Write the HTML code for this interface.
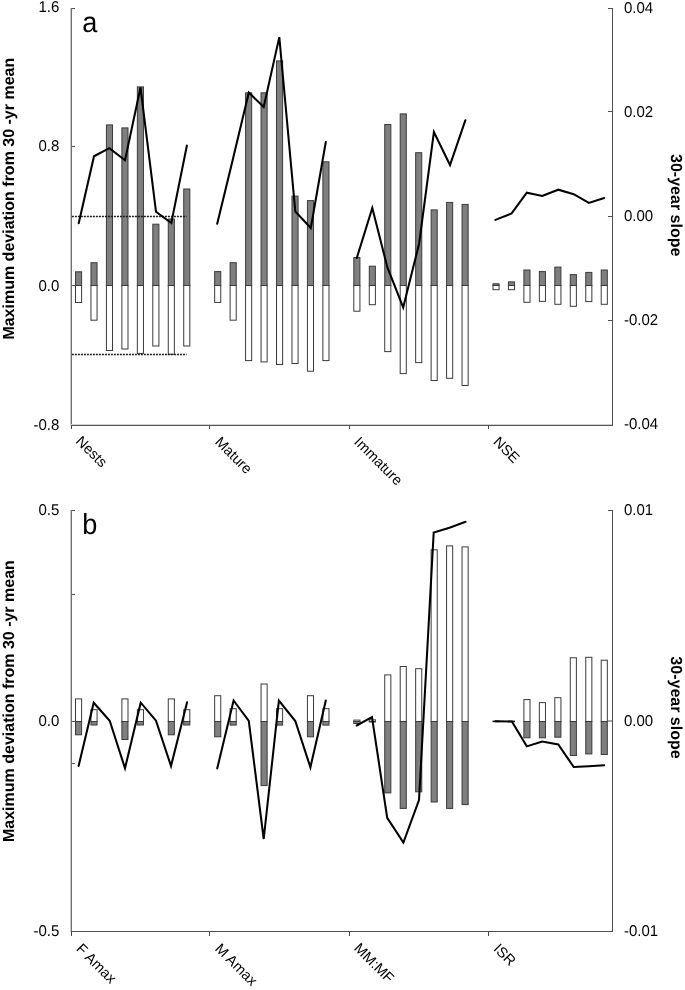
<!DOCTYPE html>
<html><head><meta charset="utf-8"><style>
html,body{margin:0;padding:0;background:#fff;width:685px;height:990px;overflow:hidden}
svg{display:block;will-change:transform}
text{font-family:"Liberation Sans",sans-serif;fill:#000;text-rendering:geometricPrecision}
</style></head><body>
<svg width="685" height="990" viewBox="0 0 685 990" font-family="Liberation Sans, sans-serif">
<rect width="100%" height="100%" fill="#fff"/>
<rect x="70" y="8" width="1" height="418" fill="#c6c6c6"/>
<rect x="71" y="8" width="1" height="418" fill="#727272"/>
<rect x="612" y="8" width="1" height="418" fill="#4e4e4e"/>
<rect x="71" y="425" width="542" height="1" fill="#555"/>
<rect x="72" y="8" width="3" height="1" fill="#555"/>
<rect x="72" y="146" width="3" height="1" fill="#555"/>
<rect x="72" y="285" width="3" height="1" fill="#555"/>
<rect x="608" y="8" width="4" height="1" fill="#4e4e4e"/>
<rect x="608" y="111" width="4" height="1" fill="#4e4e4e"/>
<rect x="608" y="216" width="4" height="1" fill="#4e4e4e"/>
<rect x="608" y="320" width="4" height="1" fill="#4e4e4e"/>
<rect x="71" y="426" width="1" height="3" fill="#444"/>
<rect x="209" y="426" width="1" height="3" fill="#444"/>
<rect x="349" y="426" width="1" height="3" fill="#444"/>
<rect x="488" y="426" width="1" height="3" fill="#444"/>
<rect x="71" y="424" width="541" height="1" fill="#d0d0d0"/>
<rect x="75.50" y="271.80" width="6.10" height="13.70" fill="#7f7f7f" stroke="#3a3a3a" stroke-width="1"/>
<rect x="75.50" y="285.50" width="6.10" height="17.00" fill="#fff" stroke="#3a3a3a" stroke-width="1"/>
<rect x="90.96" y="262.70" width="6.10" height="22.80" fill="#7f7f7f" stroke="#3a3a3a" stroke-width="1"/>
<rect x="90.96" y="285.50" width="6.10" height="34.70" fill="#fff" stroke="#3a3a3a" stroke-width="1"/>
<rect x="106.42" y="124.90" width="6.10" height="160.60" fill="#7f7f7f" stroke="#3a3a3a" stroke-width="1"/>
<rect x="106.42" y="285.50" width="6.10" height="65.00" fill="#fff" stroke="#3a3a3a" stroke-width="1"/>
<rect x="121.89" y="127.90" width="6.10" height="157.60" fill="#7f7f7f" stroke="#3a3a3a" stroke-width="1"/>
<rect x="121.89" y="285.50" width="6.10" height="63.50" fill="#fff" stroke="#3a3a3a" stroke-width="1"/>
<rect x="137.35" y="86.90" width="6.10" height="198.60" fill="#7f7f7f" stroke="#3a3a3a" stroke-width="1"/>
<rect x="137.35" y="285.50" width="6.10" height="67.90" fill="#fff" stroke="#3a3a3a" stroke-width="1"/>
<rect x="152.81" y="224.20" width="6.10" height="61.30" fill="#7f7f7f" stroke="#3a3a3a" stroke-width="1"/>
<rect x="152.81" y="285.50" width="6.10" height="60.50" fill="#fff" stroke="#3a3a3a" stroke-width="1"/>
<rect x="168.27" y="219.00" width="6.10" height="66.50" fill="#7f7f7f" stroke="#3a3a3a" stroke-width="1"/>
<rect x="168.27" y="285.50" width="6.10" height="68.80" fill="#fff" stroke="#3a3a3a" stroke-width="1"/>
<rect x="183.73" y="189.00" width="6.10" height="96.50" fill="#7f7f7f" stroke="#3a3a3a" stroke-width="1"/>
<rect x="183.73" y="285.50" width="6.10" height="60.50" fill="#fff" stroke="#3a3a3a" stroke-width="1"/>
<rect x="214.66" y="271.60" width="6.10" height="13.90" fill="#7f7f7f" stroke="#3a3a3a" stroke-width="1"/>
<rect x="214.66" y="285.50" width="6.10" height="16.90" fill="#fff" stroke="#3a3a3a" stroke-width="1"/>
<rect x="230.12" y="262.70" width="6.10" height="22.80" fill="#7f7f7f" stroke="#3a3a3a" stroke-width="1"/>
<rect x="230.12" y="285.50" width="6.10" height="34.70" fill="#fff" stroke="#3a3a3a" stroke-width="1"/>
<rect x="245.58" y="92.80" width="6.10" height="192.70" fill="#7f7f7f" stroke="#3a3a3a" stroke-width="1"/>
<rect x="245.58" y="285.50" width="6.10" height="75.10" fill="#fff" stroke="#3a3a3a" stroke-width="1"/>
<rect x="261.04" y="92.80" width="6.10" height="192.70" fill="#7f7f7f" stroke="#3a3a3a" stroke-width="1"/>
<rect x="261.04" y="285.50" width="6.10" height="76.40" fill="#fff" stroke="#3a3a3a" stroke-width="1"/>
<rect x="276.51" y="60.90" width="6.10" height="224.60" fill="#7f7f7f" stroke="#3a3a3a" stroke-width="1"/>
<rect x="276.51" y="285.50" width="6.10" height="79.00" fill="#fff" stroke="#3a3a3a" stroke-width="1"/>
<rect x="291.97" y="196.10" width="6.10" height="89.40" fill="#7f7f7f" stroke="#3a3a3a" stroke-width="1"/>
<rect x="291.97" y="285.50" width="6.10" height="78.00" fill="#fff" stroke="#3a3a3a" stroke-width="1"/>
<rect x="307.43" y="200.60" width="6.10" height="84.90" fill="#7f7f7f" stroke="#3a3a3a" stroke-width="1"/>
<rect x="307.43" y="285.50" width="6.10" height="85.70" fill="#fff" stroke="#3a3a3a" stroke-width="1"/>
<rect x="322.89" y="161.80" width="6.10" height="123.70" fill="#7f7f7f" stroke="#3a3a3a" stroke-width="1"/>
<rect x="322.89" y="285.50" width="6.10" height="75.10" fill="#fff" stroke="#3a3a3a" stroke-width="1"/>
<rect x="353.82" y="257.50" width="6.10" height="28.00" fill="#7f7f7f" stroke="#3a3a3a" stroke-width="1"/>
<rect x="353.82" y="285.50" width="6.10" height="25.70" fill="#fff" stroke="#3a3a3a" stroke-width="1"/>
<rect x="369.28" y="266.20" width="6.10" height="19.30" fill="#7f7f7f" stroke="#3a3a3a" stroke-width="1"/>
<rect x="369.28" y="285.50" width="6.10" height="19.20" fill="#fff" stroke="#3a3a3a" stroke-width="1"/>
<rect x="384.74" y="124.50" width="6.10" height="161.00" fill="#7f7f7f" stroke="#3a3a3a" stroke-width="1"/>
<rect x="384.74" y="285.50" width="6.10" height="66.10" fill="#fff" stroke="#3a3a3a" stroke-width="1"/>
<rect x="400.20" y="113.90" width="6.10" height="171.60" fill="#7f7f7f" stroke="#3a3a3a" stroke-width="1"/>
<rect x="400.20" y="285.50" width="6.10" height="88.10" fill="#fff" stroke="#3a3a3a" stroke-width="1"/>
<rect x="415.66" y="152.70" width="6.10" height="132.80" fill="#7f7f7f" stroke="#3a3a3a" stroke-width="1"/>
<rect x="415.66" y="285.50" width="6.10" height="77.10" fill="#fff" stroke="#3a3a3a" stroke-width="1"/>
<rect x="431.13" y="209.90" width="6.10" height="75.60" fill="#7f7f7f" stroke="#3a3a3a" stroke-width="1"/>
<rect x="431.13" y="285.50" width="6.10" height="95.00" fill="#fff" stroke="#3a3a3a" stroke-width="1"/>
<rect x="446.59" y="202.40" width="6.10" height="83.10" fill="#7f7f7f" stroke="#3a3a3a" stroke-width="1"/>
<rect x="446.59" y="285.50" width="6.10" height="92.80" fill="#fff" stroke="#3a3a3a" stroke-width="1"/>
<rect x="462.05" y="204.40" width="6.10" height="81.10" fill="#7f7f7f" stroke="#3a3a3a" stroke-width="1"/>
<rect x="462.05" y="285.50" width="6.10" height="100.00" fill="#fff" stroke="#3a3a3a" stroke-width="1"/>
<rect x="492.97" y="283.80" width="6.10" height="1.70" fill="#7f7f7f" stroke="#3a3a3a" stroke-width="1"/>
<rect x="492.97" y="285.50" width="6.10" height="4.20" fill="#fff" stroke="#3a3a3a" stroke-width="1"/>
<rect x="508.44" y="281.90" width="6.10" height="3.60" fill="#7f7f7f" stroke="#3a3a3a" stroke-width="1"/>
<rect x="508.44" y="285.50" width="6.10" height="4.20" fill="#fff" stroke="#3a3a3a" stroke-width="1"/>
<rect x="523.90" y="270.00" width="6.10" height="15.50" fill="#7f7f7f" stroke="#3a3a3a" stroke-width="1"/>
<rect x="523.90" y="285.50" width="6.10" height="16.80" fill="#fff" stroke="#3a3a3a" stroke-width="1"/>
<rect x="539.36" y="271.60" width="6.10" height="13.90" fill="#7f7f7f" stroke="#3a3a3a" stroke-width="1"/>
<rect x="539.36" y="285.50" width="6.10" height="15.90" fill="#fff" stroke="#3a3a3a" stroke-width="1"/>
<rect x="554.82" y="267.10" width="6.10" height="18.40" fill="#7f7f7f" stroke="#3a3a3a" stroke-width="1"/>
<rect x="554.82" y="285.50" width="6.10" height="18.80" fill="#fff" stroke="#3a3a3a" stroke-width="1"/>
<rect x="570.28" y="274.60" width="6.10" height="10.90" fill="#7f7f7f" stroke="#3a3a3a" stroke-width="1"/>
<rect x="570.28" y="285.50" width="6.10" height="20.80" fill="#fff" stroke="#3a3a3a" stroke-width="1"/>
<rect x="585.75" y="272.40" width="6.10" height="13.10" fill="#7f7f7f" stroke="#3a3a3a" stroke-width="1"/>
<rect x="585.75" y="285.50" width="6.10" height="16.10" fill="#fff" stroke="#3a3a3a" stroke-width="1"/>
<rect x="601.21" y="270.00" width="6.10" height="15.50" fill="#7f7f7f" stroke="#3a3a3a" stroke-width="1"/>
<rect x="601.21" y="285.50" width="6.10" height="18.80" fill="#fff" stroke="#3a3a3a" stroke-width="1"/>
<g stroke="#1a1a1a" stroke-width="1.5" stroke-dasharray="2 1">
<line x1="71.9" y1="216.5" x2="186.5" y2="216.5"/>
<line x1="71.9" y1="354.5" x2="186.5" y2="354.5"/>
</g>
<polyline points="78.7,223.3 94,156.3 109.4,148.1 125,160.2 140.5,87.5 156.0,211.8 171.3,223 186.9,145.5" fill="none" stroke="#000" stroke-width="2.05" stroke-linejoin="miter" stroke-linecap="round"/>
<polyline points="217.2,223.8 232.7,160 248.8,92.5 263.7,107 279.3,37.1 295.3,211.5 310.8,228 325.8,142" fill="none" stroke="#000" stroke-width="2.05" stroke-linejoin="miter" stroke-linecap="round"/>
<polyline points="356.8,258 372.3,208 387.4,267.5 403.2,307.5 419.1,243.7 433.9,132 450,165 465.4,120.2" fill="none" stroke="#000" stroke-width="2.05" stroke-linejoin="miter" stroke-linecap="round"/>
<polyline points="495.4,219.9 511.6,213.4 526.8,192.7 542.2,196 558.3,189.7 573.7,194.2 588.9,202.9 604.2,198" fill="none" stroke="#000" stroke-width="2.05" stroke-linejoin="miter" stroke-linecap="round"/>
<text x="0" y="0" font-size="15" font-weight="normal" text-anchor="end" transform="translate(59.3,12.0) scale(1,1.04)">1.6</text>
<text x="0" y="0" font-size="15" font-weight="normal" text-anchor="end" transform="translate(59.3,151.0) scale(1,1.04)">0.8</text>
<text x="0" y="0" font-size="15" font-weight="normal" text-anchor="end" transform="translate(59.3,290.9) scale(1,1.04)">0.0</text>
<text x="0" y="0" font-size="15" font-weight="normal" text-anchor="end" transform="translate(59.3,429.5) scale(1,1.04)">-0.8</text>
<text x="0" y="0" font-size="15" font-weight="normal" text-anchor="start" transform="translate(624.0,12.5) scale(1,1.04)">0.04</text>
<text x="0" y="0" font-size="15" font-weight="normal" text-anchor="start" transform="translate(624.0,116.6) scale(1,1.04)">0.02</text>
<text x="0" y="0" font-size="15" font-weight="normal" text-anchor="start" transform="translate(624.0,220.8) scale(1,1.04)">0.00</text>
<text x="0" y="0" font-size="15" font-weight="normal" text-anchor="start" transform="translate(624.0,324.7) scale(1,1.04)">-0.02</text>
<text x="0" y="0" font-size="15" font-weight="normal" text-anchor="start" transform="translate(624.0,429.3) scale(1,1.04)">-0.04</text>
<text x="0" y="0" font-size="14.5" transform="translate(75.10,442.00) rotate(45)">Nests</text>
<text x="0" y="0" font-size="14.5" transform="translate(214.30,442.80) rotate(45)">Mature</text>
<text x="0" y="0" font-size="14.5" transform="translate(353.30,442.80) rotate(45)">Immature</text>
<text x="0" y="0" font-size="14.5" transform="translate(492.60,442.80) rotate(45)">NSE</text>
<text x="0" y="0" font-size="28" font-weight="normal" text-anchor="start" transform="translate(82.3,32) scale(0.97,1.03)">a</text>
<text x="0" y="0" font-size="16" font-weight="bold" text-anchor="middle" transform="translate(14,198.7) rotate(-90)">Maximum deviation from 30 -yr mean</text>
<text x="0" y="0" font-size="16" font-weight="bold" text-anchor="middle" transform="translate(671,205.2) rotate(90)">30-year slope</text>
<rect x="70" y="510" width="1" height="422" fill="#c6c6c6"/>
<rect x="71" y="510" width="1" height="422" fill="#727272"/>
<rect x="612" y="510" width="1" height="422" fill="#4e4e4e"/>
<rect x="71" y="931" width="542" height="1" fill="#4f4f4f"/>
<rect x="72" y="510" width="3" height="1" fill="#555"/>
<rect x="72" y="594" width="3" height="1" fill="#555"/>
<rect x="72" y="721" width="3" height="1" fill="#555"/>
<rect x="72" y="763" width="3" height="1" fill="#555"/>
<rect x="608" y="510" width="4" height="1" fill="#4e4e4e"/>
<rect x="608" y="720.5" width="4" height="1" fill="#4e4e4e"/>
<rect x="71" y="932" width="1" height="4" fill="#444"/>
<rect x="209" y="932" width="1" height="4" fill="#444"/>
<rect x="349" y="932" width="1" height="4" fill="#444"/>
<rect x="488" y="932" width="1" height="4" fill="#444"/>
<rect x="75.50" y="698.90" width="6.10" height="22.60" fill="#fff" stroke="#3a3a3a" stroke-width="1"/>
<rect x="75.50" y="721.50" width="6.10" height="13.30" fill="#7f7f7f" stroke="#3a3a3a" stroke-width="1"/>
<rect x="90.96" y="709.70" width="6.10" height="11.80" fill="#fff" stroke="#3a3a3a" stroke-width="1"/>
<rect x="90.96" y="721.50" width="6.10" height="3.50" fill="#7f7f7f" stroke="#3a3a3a" stroke-width="1"/>
<rect x="121.89" y="698.90" width="6.10" height="22.60" fill="#fff" stroke="#3a3a3a" stroke-width="1"/>
<rect x="121.89" y="721.50" width="6.10" height="18.00" fill="#7f7f7f" stroke="#3a3a3a" stroke-width="1"/>
<rect x="137.35" y="709.70" width="6.10" height="11.80" fill="#fff" stroke="#3a3a3a" stroke-width="1"/>
<rect x="137.35" y="721.50" width="6.10" height="3.50" fill="#7f7f7f" stroke="#3a3a3a" stroke-width="1"/>
<rect x="168.27" y="698.90" width="6.10" height="22.60" fill="#fff" stroke="#3a3a3a" stroke-width="1"/>
<rect x="168.27" y="721.50" width="6.10" height="13.30" fill="#7f7f7f" stroke="#3a3a3a" stroke-width="1"/>
<rect x="183.73" y="709.70" width="6.10" height="11.80" fill="#fff" stroke="#3a3a3a" stroke-width="1"/>
<rect x="183.73" y="721.50" width="6.10" height="3.50" fill="#7f7f7f" stroke="#3a3a3a" stroke-width="1"/>
<rect x="214.66" y="695.70" width="6.10" height="25.80" fill="#fff" stroke="#3a3a3a" stroke-width="1"/>
<rect x="214.66" y="721.50" width="6.10" height="15.30" fill="#7f7f7f" stroke="#3a3a3a" stroke-width="1"/>
<rect x="230.12" y="708.70" width="6.10" height="12.80" fill="#fff" stroke="#3a3a3a" stroke-width="1"/>
<rect x="230.12" y="721.50" width="6.10" height="3.60" fill="#7f7f7f" stroke="#3a3a3a" stroke-width="1"/>
<rect x="261.04" y="684.00" width="6.10" height="37.50" fill="#fff" stroke="#3a3a3a" stroke-width="1"/>
<rect x="261.04" y="721.50" width="6.10" height="64.10" fill="#7f7f7f" stroke="#3a3a3a" stroke-width="1"/>
<rect x="276.51" y="708.70" width="6.10" height="12.80" fill="#fff" stroke="#3a3a3a" stroke-width="1"/>
<rect x="276.51" y="721.50" width="6.10" height="3.60" fill="#7f7f7f" stroke="#3a3a3a" stroke-width="1"/>
<rect x="307.43" y="695.70" width="6.10" height="25.80" fill="#fff" stroke="#3a3a3a" stroke-width="1"/>
<rect x="307.43" y="721.50" width="6.10" height="15.30" fill="#7f7f7f" stroke="#3a3a3a" stroke-width="1"/>
<rect x="322.89" y="708.70" width="6.10" height="12.80" fill="#fff" stroke="#3a3a3a" stroke-width="1"/>
<rect x="322.89" y="721.50" width="6.10" height="3.60" fill="#7f7f7f" stroke="#3a3a3a" stroke-width="1"/>
<rect x="353.82" y="720.10" width="6.10" height="1.40" fill="#fff" stroke="#3a3a3a" stroke-width="1"/>
<rect x="353.82" y="721.50" width="6.10" height="2.00" fill="#7f7f7f" stroke="#3a3a3a" stroke-width="1"/>
<rect x="369.28" y="719.80" width="6.10" height="1.70" fill="#fff" stroke="#3a3a3a" stroke-width="1"/>
<rect x="369.28" y="721.50" width="6.10" height="0.50" fill="#7f7f7f" stroke="#3a3a3a" stroke-width="1"/>
<rect x="384.74" y="674.90" width="6.10" height="46.60" fill="#fff" stroke="#3a3a3a" stroke-width="1"/>
<rect x="384.74" y="721.50" width="6.10" height="71.40" fill="#7f7f7f" stroke="#3a3a3a" stroke-width="1"/>
<rect x="400.20" y="666.50" width="6.10" height="55.00" fill="#fff" stroke="#3a3a3a" stroke-width="1"/>
<rect x="400.20" y="721.50" width="6.10" height="86.90" fill="#7f7f7f" stroke="#3a3a3a" stroke-width="1"/>
<rect x="415.66" y="668.70" width="6.10" height="52.80" fill="#fff" stroke="#3a3a3a" stroke-width="1"/>
<rect x="415.66" y="721.50" width="6.10" height="70.30" fill="#7f7f7f" stroke="#3a3a3a" stroke-width="1"/>
<rect x="431.13" y="549.80" width="6.10" height="171.70" fill="#fff" stroke="#3a3a3a" stroke-width="1"/>
<rect x="431.13" y="721.50" width="6.10" height="80.50" fill="#7f7f7f" stroke="#3a3a3a" stroke-width="1"/>
<rect x="446.59" y="545.90" width="6.10" height="175.60" fill="#fff" stroke="#3a3a3a" stroke-width="1"/>
<rect x="446.59" y="721.50" width="6.10" height="86.90" fill="#7f7f7f" stroke="#3a3a3a" stroke-width="1"/>
<rect x="462.05" y="546.90" width="6.10" height="174.60" fill="#fff" stroke="#3a3a3a" stroke-width="1"/>
<rect x="462.05" y="721.50" width="6.10" height="83.10" fill="#7f7f7f" stroke="#3a3a3a" stroke-width="1"/>
<rect x="523.90" y="699.60" width="6.10" height="21.90" fill="#fff" stroke="#3a3a3a" stroke-width="1"/>
<rect x="523.90" y="721.50" width="6.10" height="16.30" fill="#7f7f7f" stroke="#3a3a3a" stroke-width="1"/>
<rect x="539.36" y="702.60" width="6.10" height="18.90" fill="#fff" stroke="#3a3a3a" stroke-width="1"/>
<rect x="539.36" y="721.50" width="6.10" height="16.30" fill="#7f7f7f" stroke="#3a3a3a" stroke-width="1"/>
<rect x="554.82" y="697.70" width="6.10" height="23.80" fill="#fff" stroke="#3a3a3a" stroke-width="1"/>
<rect x="554.82" y="721.50" width="6.10" height="15.70" fill="#7f7f7f" stroke="#3a3a3a" stroke-width="1"/>
<rect x="570.28" y="657.80" width="6.10" height="63.70" fill="#fff" stroke="#3a3a3a" stroke-width="1"/>
<rect x="570.28" y="721.50" width="6.10" height="34.00" fill="#7f7f7f" stroke="#3a3a3a" stroke-width="1"/>
<rect x="585.75" y="657.30" width="6.10" height="64.20" fill="#fff" stroke="#3a3a3a" stroke-width="1"/>
<rect x="585.75" y="721.50" width="6.10" height="32.40" fill="#7f7f7f" stroke="#3a3a3a" stroke-width="1"/>
<rect x="601.21" y="660.20" width="6.10" height="61.30" fill="#fff" stroke="#3a3a3a" stroke-width="1"/>
<rect x="601.21" y="721.50" width="6.10" height="33.00" fill="#7f7f7f" stroke="#3a3a3a" stroke-width="1"/>
<rect x="492.47" y="720.6" width="7.10" height="1.6" fill="#1a1a1a"/>
<rect x="507.94" y="720.6" width="7.10" height="1.6" fill="#1a1a1a"/>
<polyline points="78.6,766 93.7,702.7 109.7,720.7 125,768.3 140.7,702.7 156,720.7 171,766 187.1,702.3" fill="none" stroke="#000" stroke-width="2.05" stroke-linejoin="miter" stroke-linecap="round"/>
<polyline points="217.2,768.5 233.6,700.5 248.8,721 263.7,839 278.9,700.5 295.3,721 310.4,767.3 325.8,700.5" fill="none" stroke="#000" stroke-width="2.05" stroke-linejoin="miter" stroke-linecap="round"/>
<polyline points="356.7,725.5 372,717 387.2,817.8 403.4,842.5 419,800 433.7,532.5 449.5,527.7 465.6,521.8" fill="none" stroke="#000" stroke-width="2.05" stroke-linejoin="miter" stroke-linecap="round"/>
<polyline points="495.4,721.3 511.9,721.5 526.8,746.4 542.2,741.5 558.3,744.5 573.7,767 588.9,766.2 604.2,765.3" fill="none" stroke="#000" stroke-width="2.05" stroke-linejoin="miter" stroke-linecap="round"/>
<text x="0" y="0" font-size="15" font-weight="normal" text-anchor="end" transform="translate(59.3,514.8) scale(1,1.04)">0.5</text>
<text x="0" y="0" font-size="15" font-weight="normal" text-anchor="end" transform="translate(59.3,725.5) scale(1,1.04)">0.0</text>
<text x="0" y="0" font-size="15" font-weight="normal" text-anchor="end" transform="translate(59.3,935.9) scale(1,1.04)">-0.5</text>
<text x="0" y="0" font-size="15" font-weight="normal" text-anchor="start" transform="translate(624.0,514.9) scale(1,1.04)">0.01</text>
<text x="0" y="0" font-size="15" font-weight="normal" text-anchor="start" transform="translate(624.0,725.5) scale(1,1.04)">0.00</text>
<text x="0" y="0" font-size="15" font-weight="normal" text-anchor="start" transform="translate(624.0,935.5) scale(1,1.04)">-0.01</text>
<text x="0" y="0" font-size="14.5" transform="translate(75.50,949.60) rotate(45)">F Amax</text>
<text x="0" y="0" font-size="14.5" transform="translate(214.30,949.50) rotate(45)">M Amax</text>
<text x="0" y="0" font-size="14.5" transform="translate(353.30,949.10) rotate(45)">MM:MF</text>
<text x="0" y="0" font-size="14.5" transform="translate(492.70,949.60) rotate(45)">ISR</text>
<text x="0" y="0" font-size="28" font-weight="normal" text-anchor="start" transform="translate(82.3,534.3) scale(0.97,1.03)">b</text>
<text x="0" y="0" font-size="16" font-weight="bold" text-anchor="middle" transform="translate(14,701.1) rotate(-90)">Maximum deviation from 30 -yr mean</text>
<text x="0" y="0" font-size="16" font-weight="bold" text-anchor="middle" transform="translate(671,707.5) rotate(90)">30-year slope</text>
</svg>
</body></html>
